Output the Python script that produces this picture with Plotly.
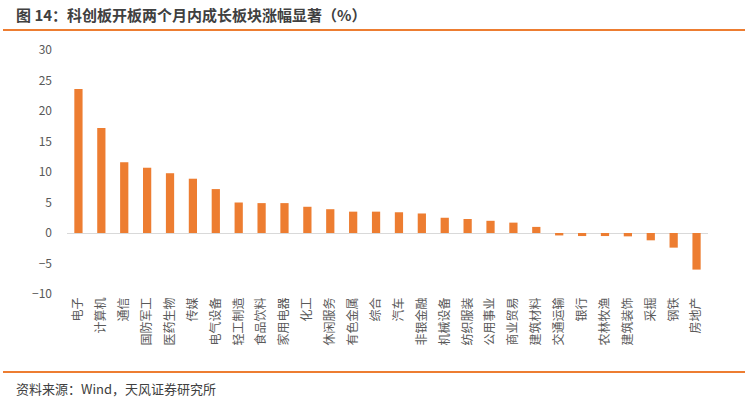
import plotly.graph_objects as go

# sector names and two-month gain (%) since STAR market opening
sectors = ["电子", "计算机", "通信", "国防军工", "医药生物", "传媒", "电气设备",
           "轻工制造", "食品饮料", "家用电器", "化工", "休闲服务", "有色金属", "综合",
           "汽车", "非银金融", "机械设备", "纺织服装", "公用事业", "商业贸易", "建筑材料",
           "交通运输", "银行", "农林牧渔", "建筑装饰", "采掘", "钢铁", "房地产"]
gains = [23.6, 17.2, 11.6, 10.7, 9.8, 8.9, 7.2,
         5.0, 4.9, 4.9, 4.3, 3.9, 3.5, 3.5,
         3.4, 3.2, 2.5, 2.3, 2.0, 1.7, 1.0,
         -0.4, -0.5, -0.5, -0.55, -1.2, -2.4, -6.0]
y_ticks = [-10, -5, 0, 5, 10, 15, 20, 25, 30]

title = "图 14：科创板开板两个月内成长板块涨幅显著（%）"
source = "资料来源：Wind，天风证券研究所"

ORANGE = "#ED7D31"
FONT = "Noto Sans CJK SC"

W, H = 750, 403
# plot area in pixels: x 67..708, y 50..294
L, R, T, B = 67, 708, 50, 294


def px_x(p):
    return (p - L) / (R - L)


def px_y(p):
    return (B - p) / (B - T)


fig = go.Figure(go.Bar(
    x=sectors,
    y=gains,
    marker=dict(color=ORANGE, line=dict(width=0)),
))

fig.update_layout(
    width=W, height=H, autosize=False,
    margin=dict(l=L, r=W - R, t=T, b=H - B),
    paper_bgcolor="white", plot_bgcolor="white",
    bargap=0.64,
    showlegend=False,
    font=dict(family=FONT, color="#595959", size=12),
)

fig.update_xaxes(
    tickangle=-90,
    tickfont=dict(family=FONT, size=12, color="#595959"),
    showgrid=False, showline=False, zeroline=False,
    ticks="",
)
fig.update_yaxes(
    range=[-10, 30],
    tickvals=y_ticks,
    tickfont=dict(family=FONT, size=12, color="#595959"),
    showgrid=False, showline=False,
    zeroline=True, zerolinecolor="#D9D9D9", zerolinewidth=1.3,
    ticks="", ticklabelstandoff=14,
)

# orange rules above and below the chart
for py in (30, 372):
    fig.add_shape(type="line", xref="paper", yref="paper",
                  x0=px_x(3), x1=px_x(745), y0=px_y(py), y1=px_y(py),
                  line=dict(color=ORANGE, width=2))

fig.add_annotation(text="<b>" + title + "</b>", xref="paper", yref="paper",
                   x=px_x(14), y=px_y(14), xanchor="left", yanchor="middle",
                   showarrow=False, font=dict(family=FONT, size=15, color="#404040"))
fig.add_annotation(text=source, xref="paper", yref="paper",
                   x=px_x(14), y=px_y(388), xanchor="left", yanchor="middle",
                   showarrow=False, font=dict(family=FONT, size=13, color="#404040"))

# drop the browser's default body margin so the figure sits in the corner
fig.write_html("out.html", config={"displayModeBar": False},
               post_script="document.body.style.margin = '0';")
